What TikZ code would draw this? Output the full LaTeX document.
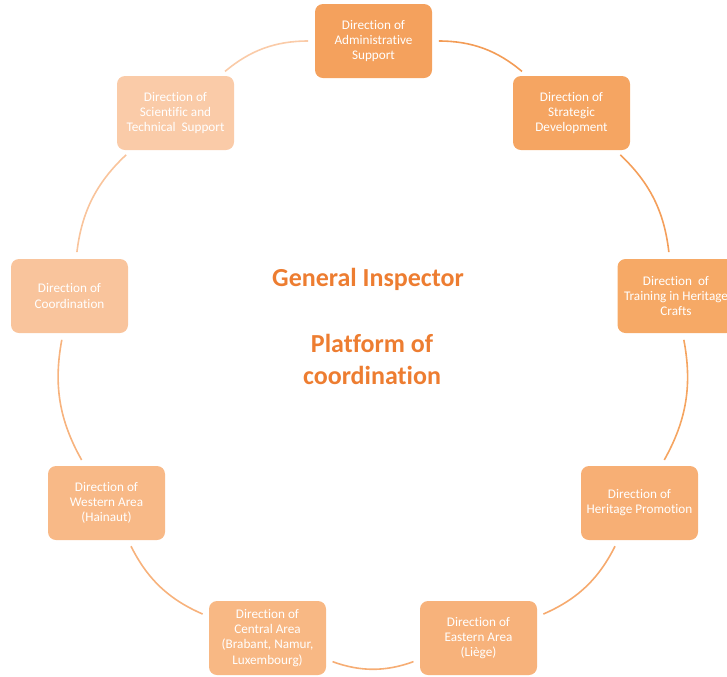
\documentclass[tikz,border=0pt]{standalone}
\usepackage{fontspec}
\setmainfont{Carlito}[Ligatures={NoCommon}]
\definecolor{accent}{HTML}{ED7D31}
\definecolor{c1}{HTML}{F4A15D}
\definecolor{c2}{HTML}{F5A562}
\definecolor{c3}{HTML}{F6A966}
\definecolor{c4}{HTML}{F7AF75}
\definecolor{c5}{HTML}{F7B27B}
\definecolor{c6}{HTML}{F8B884}
\definecolor{c7}{HTML}{F8B987}
\definecolor{c8}{HTML}{F9C49C}
\definecolor{c9}{HTML}{FACBA8}
\begin{document}
\begin{tikzpicture}[x=0.75pt,y=-0.75pt,
  dirbox/.style={rounded corners=6pt, minimum width=87.75pt, minimum height=55.5pt,
    inner sep=1pt, align=center, text=white, font=\fontsize{9.9}{11.3}\selectfont},
  ring/.style={line width=1.2pt, bend left=20, shorten >=5pt, shorten <=5pt},
  title/.style={text=accent, font=\fontsize{19.5}{24}\selectfont\bfseries, align=center}]
\useasboundingbox (0,0) rectangle (727,676);
\node[dirbox, fill=c1] (adm) at (373.5,41) {Direction of\\Administrative\\Support};
\node[dirbox, fill=c2] (str) at (571.5,113) {Direction of\\Strategic\\Development};
\node[dirbox, fill=c3] (tra) at (676,296) {Direction\ \ of\\Training in Heritage\\Crafts};
\node[dirbox, fill=c4] (her) at (639.5,503) {Direction of\\Heritage Promotion};
\node[dirbox, fill=c5] (eas) at (478.5,638) {Direction of\\Eastern Area\\(Liège)};
\node[dirbox, fill=c6] (cen) at (267.5,638) {Direction of\\Central Area\\(Brabant, Namur,\\Luxembourg)};
\node[dirbox, fill=c7] (wes) at (106.5,503) {Direction of\\Western Area\\(Hainaut)};
\node[dirbox, fill=c8] (coo) at (69.5,296) {Direction of\\Coordination};
\node[dirbox, fill=c9] (sci) at (175.5,113) {Direction of\\Scientific and\\Technical\ \ Support};
\draw[ring, draw=c1!85!accent] (adm) to (str);
\draw[ring, draw=c2!85!accent] (str) to (tra);
\draw[ring, draw=c3!90!accent] (tra) to (her);
\draw[ring, draw=c4!90!accent] (her) to (eas);
\draw[ring, draw=c5!90!accent] (eas) to (cen);
\draw[ring, draw=c6!90!accent] (cen) to (wes);
\draw[ring, draw=c7!90!accent] (wes) to (coo);
\draw[ring, draw=c8] (coo) to (sci);
\draw[ring, draw=c9] (sci) to (adm);
\node[title] (gi) at (368,279) {General Inspector};
\node[title] (pc) at (372,359) {Platform of\\coordination};
\end{tikzpicture}
\end{document}
